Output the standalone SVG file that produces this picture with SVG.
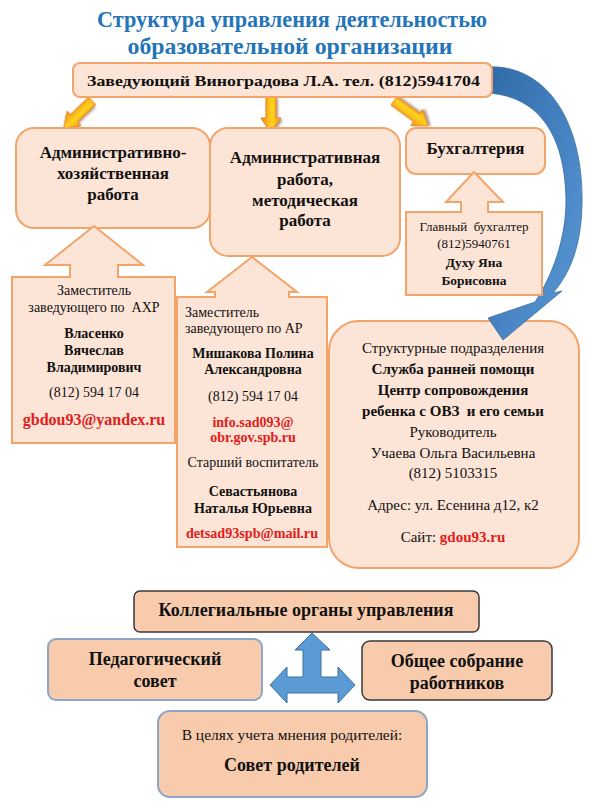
<svg xmlns="http://www.w3.org/2000/svg" width="589" height="811" viewBox="0 0 589 811">
<defs>
<style>
.t{font-family:"Liberation Serif","Times New Roman",serif;fill:#111;text-anchor:middle;white-space:pre}
.b{font-weight:bold}
.r{fill:#e0201b;font-weight:bold}
.ttl{font-family:"Liberation Serif","Times New Roman",serif;fill:#2474b8;font-weight:bold;font-size:24px;text-anchor:middle}
.box{fill:#fce4d6;stroke:#f2a46b;stroke-width:2}
.pbox{fill:#f8cbad}
.dk{stroke:#3a3a3a;stroke-width:1.5}
.bl{stroke:#8ba6c6;stroke-width:2}
.oa{fill:url(#og);stroke:#e67e22;stroke-width:1;filter:url(#sh)}
</style>
<linearGradient id="og" gradientUnits="userSpaceOnUse" x1="-11" y1="0" x2="11" y2="0">
<stop offset="0" stop-color="#ef8a1c"/><stop offset="0.55" stop-color="#ffd21c"/><stop offset="1" stop-color="#f29a1e"/>
</linearGradient>
<linearGradient id="bgr" x1="0" y1="0" x2="1" y2="1">
<stop offset="0" stop-color="#2f6aa8"/><stop offset="0.6" stop-color="#4a86c5"/><stop offset="1" stop-color="#5b9bd5"/>
</linearGradient>
<filter id="sh" x="-50%" y="-50%" width="200%" height="200%">
<feDropShadow dx="1.5" dy="2" stdDeviation="1" flood-color="#6b4a30" flood-opacity="0.55"/>
</filter>
</defs>
<rect width="589" height="811" fill="#ffffff"/>

<g id="title">
<text class="ttl" x="292" y="27" textLength="390" lengthAdjust="spacingAndGlyphs">Структура управления деятельностью</text>
<text class="ttl" x="290" y="54" textLength="325" lengthAdjust="spacingAndGlyphs">образовательной организации</text>
</g>

<g id="node-structural">
<rect class="box" x="329" y="321" width="250" height="247" rx="30"/>
<text class="t" x="453" y="353" font-size="15">Структурные подразделения</text>
<text class="t b" x="453" y="374" font-size="15">Служба ранней помощи</text>
<text class="t b" x="453" y="395" font-size="15">Центр сопровождения</text>
<text class="t b" x="453" y="416" font-size="15">ребенка с ОВЗ  и его семьи</text>
<text class="t" x="453" y="437" font-size="15">Руководитель</text>
<text class="t" x="453" y="458" font-size="15">Учаева Ольга Васильевна</text>
<text class="t" x="453" y="478" font-size="15">(812) 5103315</text>
<text class="t" x="453" y="510" font-size="15">Адрес: ул. Есенина д12, к2</text>
<text class="t" x="453" y="542" font-size="15">Сайт: <tspan class="r">gdou93.ru</tspan></text>
</g>

<g id="connectors">
<path d="M486,67 C545,63 584,120 582,205 C581,245 571,272 553,293 L562,291 L503,340 L488,318 L535,302 C552,276 566,240 566,200 C565,130 535,95 486,93 Z" fill="url(#bgr)" stroke="#3a6fa5" stroke-width="0.8"/>
<path class="oa" transform="translate(92,101) rotate(46)" d="M-5,0 H5 V25 H10 L0,39 L-10,25 H-5 Z"/>
<path class="oa" transform="translate(271,97)" d="M-5,0 H5 V21 H10 L0,35 L-10,21 H-5 Z"/>
<path class="oa" transform="translate(394,101) rotate(-54)" d="M-5,0 H5 V28 H10 L0,42 L-10,28 H-5 Z"/>
<path d="M312,633 L330,650 L321,650 L321,677 L338,677 L338,667 L355,685 L338,703 L338,693 L287,693 L287,703 L270,685 L287,667 L287,677 L303,677 L303,650 L295,650 Z" fill="#5b9bd5" stroke="#41719c" stroke-width="1"/>
</g>

<g id="node-head">
<rect class="box" x="73" y="63" width="419" height="34" rx="7"/>
<text class="t b" x="283.5" y="86" font-size="15.5" textLength="393" lengthAdjust="spacingAndGlyphs">Заведующий Виноградова Л.А. тел. (812)5941704</text>
</g>

<g id="node-ahr">
<rect class="box" x="16" y="128" width="194" height="100" rx="18"/>
<text class="t b" x="113" y="158" font-size="17">Административно-</text>
<text class="t b" x="113" y="179" font-size="17">хозяйственная</text>
<text class="t b" x="113" y="200" font-size="17">работа</text>
</g>

<g id="node-method">
<rect class="box" x="210" y="128" width="190" height="128" rx="18"/>
<text class="t b" x="305" y="163" font-size="17">Административная</text>
<text class="t b" x="305" y="185" font-size="17">работа,</text>
<text class="t b" x="305" y="206" font-size="17">методическая</text>
<text class="t b" x="305" y="226" font-size="17">работа</text>
</g>

<g id="node-buh">
<rect class="box" x="406" y="128" width="139" height="46" rx="10"/>
<text class="t b" x="475.5" y="154" font-size="17">Бухгалтерия</text>
</g>

<g id="node-ahr-deputy">
<path class="box" d="M12,277 H70 V265 H45 L94,226 L143,265 H118 V277 H175 V443 H12 Z"/>
<text class="t" x="94" y="295" font-size="14">Заместитель</text>
<text class="t" x="94" y="312" font-size="14">заведующего по  АХР</text>
<text class="t b" x="94" y="338" font-size="14">Власенко</text>
<text class="t b" x="94" y="355" font-size="14">Вячеслав</text>
<text class="t b" x="94" y="372" font-size="14">Владимирович</text>
<text class="t" x="94" y="397" font-size="14">(812) 594 17 04</text>
<text class="t r" x="94" y="425" font-size="16">gbdou93@yandex.ru</text>
</g>

<g id="node-ar-deputy">
<path class="box" d="M177,297 H215 V292 H207 L252,257 L297,292 H289 V297 H327 V547 H177 Z"/>
<text class="t" x="185" y="317" font-size="14" style="text-anchor:start">Заместитель</text>
<text class="t" x="185" y="333" font-size="14" style="text-anchor:start">заведующего по АР</text>
<text class="t b" x="253" y="358" font-size="14">Мишакова Полина</text>
<text class="t b" x="253" y="374" font-size="14">Александровна</text>
<text class="t" x="253" y="401" font-size="14">(812) 594 17 04</text>
<text class="t r" x="253" y="427" font-size="14">info.sad093@</text>
<text class="t r" x="253" y="442" font-size="14">obr.gov.spb.ru</text>
<text class="t" x="253" y="467" font-size="14">Старший воспитатель</text>
<text class="t b" x="253" y="496" font-size="14">Севастьянова</text>
<text class="t b" x="253" y="513" font-size="14">Наталья Юрьевна</text>
<text class="t r" x="252" y="538" font-size="14" textLength="132" lengthAdjust="spacingAndGlyphs">detsad93spb@mail.ru</text>
</g>

<g id="node-buh-chief">
<path class="box" d="M406,212 H461 V202 H446 L474,172 L503,202 H488 V212 H542 V295 H406 Z"/>
<text class="t" x="474" y="231" font-size="13">Главный  бухгалтер</text>
<text class="t" x="474" y="248" font-size="13">(812)5940761</text>
<text class="t b" x="474" y="267" font-size="13.5">Духу Яна</text>
<text class="t b" x="474" y="285" font-size="13.5">Борисовна</text>
</g>

<g id="node-collegial">
<rect class="pbox dk" x="134" y="591" width="345" height="41" rx="6"/>
<text class="t b" x="306" y="616" font-size="18">Коллегиальные органы управления</text>
</g>

<g id="node-ped">
<rect class="pbox bl" x="48" y="639" width="214" height="61" rx="8"/>
<text class="t b" x="155" y="665" font-size="18">Педагогический</text>
<text class="t b" x="155" y="687" font-size="18">совет</text>
</g>

<g id="node-general">
<rect class="pbox dk" x="362" y="641" width="190" height="59" rx="8"/>
<text class="t b" x="457" y="667" font-size="18">Общее собрание</text>
<text class="t b" x="457" y="689" font-size="18">работников</text>
</g>

<g id="node-parents">
<rect class="pbox bl" x="158" y="711" width="269" height="86" rx="12"/>
<text class="t" x="292" y="740" font-size="15.5">В целях учета мнения родителей:</text>
<text class="t b" x="292" y="771" font-size="18">Совет родителей</text>
</g>
</svg>
